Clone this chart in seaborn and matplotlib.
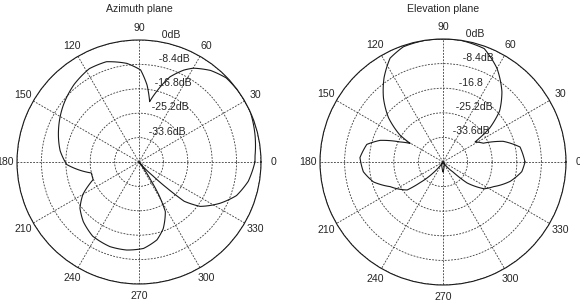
#####----- Antenna radiation patterns: azimuth and elevation planes (polar, dB)

#####----- IMPORTS
import numpy as np
import pandas as pd
import seaborn as sns
import matplotlib.pyplot as plt

#####----- DATA (dB relative to peak)
az_angle = [0, 3, 13, 24, 35, 44, 52, 60, 64, 70, 76, 80, 84, 89, 97, 108, 118, 130, 143,
            159, 172, 182, 188, 193, 201, 205, 210, 218, 227, 238, 251, 262, 273, 283,
            290, 298, 301, 303, 307, 312, 315, 317, 319, 324, 333, 341, 350, 357, 360]
az_db = [-2.1, -2.0, -1.0, 0, 0, -0.3, -2.0, -4.7, -6.8, -10.8, -17.0, -20.9, -15.4,
         -10.3, -7.8, -5.7, -5.6, -7.2, -9.4, -12.3, -14.6, -17.1, -21.5, -25.2, -25.1,
         -22.8, -19.7, -16.2, -13.9, -11.9, -11.2, -11.4, -12.2, -14.5, -17.6, -22.7,
         -28.6, -34.4, -42.0, -39.5, -35.3, -29.0, -21.4, -16.0, -10.7, -6.5, -3.8,
         -2.6, -2.1]

el_angle = [0, 11, 19, 25, 32, 36, 42, 50, 60, 70, 82, 90, 98, 109, 117, 125, 133, 141,
            148, 150.5, 155, 161, 167, 177, 187, 196, 205, 218, 222, 228, 235, 262, 270,
            278, 305, 315, 319, 327, 334, 344, 353, 360]
el_db = [-14.0, -15.2, -20.3, -26.8, -29.1, -22.3, -16.0, -10.7, -5.1, -0.8, 0, 0, 0,
         -0.4, -2.2, -6.9, -12.2, -18.1, -24.7, -29.1, -25.8, -19.3, -15.3, -13.6, -14.6,
         -17.3, -22.1, -26.5, -31.5, -37.0, -42.0, -39.9, -38.6, -39.9, -42.0, -37.2,
         -31.1, -25.2, -22.8, -18.1, -14.9, -14.0]

ring_db = [-33.6, -25.2, -16.8, -8.4, 0]
az_ring_labels = ['-33.6dB', '-25.2dB', '-16.8dB', '-8.4dB', '0dB']
el_ring_labels = ['-33.6dB', '-25.2dB', '-16.8', '-8.4dB', '0dB']
theta_ticks = list(range(0, 360, 30))
titles = ['Azimuth plane', 'Elevation plane']

#####----- STYLE
sns.set_style("white")
plt.rcParams['font.family'] = ['Liberation Sans', 'DejaVu Sans']
FS = 7.6
RMIN = -42.0
DOT = (0, (2.2, 1.6))


def pattern_plot(ax, angle, db, ring_labels, title, cx):
    df = pd.DataFrame({'theta': np.deg2rad(angle), 'db': np.clip(db, RMIN, 0)})
    sns.lineplot(data=df, x='theta', y='db', ax=ax, color='#1a1a1a', linewidth=0.8,
                 sort=False, estimator=None)
    # let the polar transform draw each segment as a curve in (theta, r)
    for line in ax.lines:
        line.get_path()._interpolation_steps = 12

    ax.set_theta_zero_location('E')
    ax.set_theta_direction(1)
    ax.set_ylim(RMIN, 0)
    ax.set_yticks(ring_db)
    ax.set_yticklabels([])
    ax.set_xticks(np.deg2rad(theta_ticks))
    ax.set_xticklabels([])
    ax.tick_params(length=0)
    ax.grid(True, color='#3a3a3a', linewidth=0.6, linestyle=DOT)
    ax.spines['polar'].set_color('#1a1a1a')
    ax.spines['polar'].set_linewidth(0.8)
    ax.set_xlabel('')
    ax.set_ylabel('')

    # angle labels at 1.1 R, like matlab polar()
    for t in theta_ticks:
        ax.text(np.deg2rad(t), RMIN + 1.1 * (-RMIN), str(t), ha='center', va='center',
                fontsize=FS, clip_on=False)
    # ring labels along the 82 deg line
    for r, lab in zip(ring_db, ring_labels):
        ax.text(np.deg2rad(82), r + 8.4 / 20, '  ' + lab, ha='left', va='bottom',
                fontsize=FS, clip_on=False)

    ax.figure.text(cx / 580, 1 - 9 / 304, title, ha='center', va='center', fontsize=FS)


#####----- MAIN
fig = plt.figure(figsize=(5.8, 3.04), dpi=100)
ax1 = fig.add_axes([17 / 580, 20 / 304, 244 / 580, 244 / 304], projection='polar')
ax2 = fig.add_axes([320 / 580, 19 / 304, 246 / 580, 246 / 304], projection='polar')

pattern_plot(ax1, az_angle, az_db, az_ring_labels, titles[0], 139)
pattern_plot(ax2, el_angle, el_db, el_ring_labels, titles[1], 443)

fig.savefig("out.png", dpi=100)
